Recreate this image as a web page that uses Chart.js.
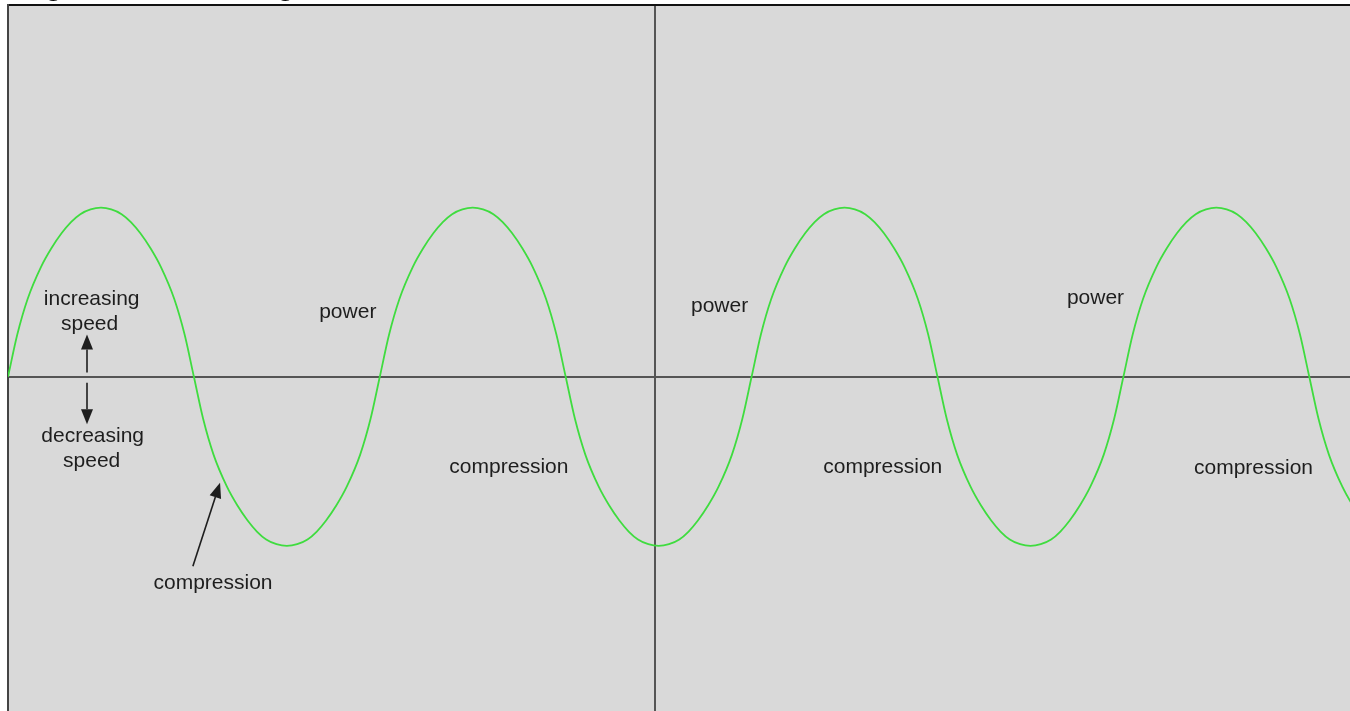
<!DOCTYPE html>
<html>
<head>
<meta charset="utf-8">
<title>Engine speed over crank angle</title>
<script src="https://cdn.jsdelivr.net/npm/chart.js@4.4.1/dist/chart.umd.min.js"></script>
<style>
  html, body { margin: 0; padding: 0; background: #fff; overflow: hidden; }
  #wrap { position: relative; width: 1350px; height: 711px; overflow: hidden; }
  #engine { position: absolute; left: 0; top: -30px; }
</style>
</head>
<body>
<div id="wrap"><canvas id="engine" width="1360" height="750"></canvas></div>
<script>
// crank angle in degrees
const crankAngle = [
    0, 9, 19, 32, 42, 52, 61, 70, 80, 90, 100, 110, 119, 128, 138, 148, 161, 171,
    180, 189, 199, 212, 222, 232, 241, 250, 260, 270, 280, 290, 299, 308, 318, 328, 341, 351,
    360, 369, 379, 392, 402, 412, 421, 430, 440, 450, 460, 470, 479, 488, 498, 508, 521, 531,
    540, 549, 559, 572, 582, 592, 601, 610, 620, 630, 640, 650, 659, 668, 678, 688, 701, 711,
    720, 729, 739, 752, 762, 772, 781, 790, 800, 810, 820, 830, 839, 848, 858, 868, 881, 891,
    900, 909, 919, 932, 942, 952, 961, 970, 980, 990, 1000, 1010, 1019, 1028, 1038, 1048, 1061, 1071,
    1080, 1089, 1099, 1112, 1122, 1132, 1141, 1150, 1160, 1170, 1180, 1190, 1199, 1208, 1218, 1228, 1241, 1251,
    1260, 1269, 1279, 1292, 1302, 1312,
]

// speed change (peak = 1)
const speedChange = [
    0, 0.25, 0.46, 0.65, 0.76, 0.85, 0.915, 0.962, 0.99, 1, 0.99, 0.962, 0.915, 0.85, 0.76, 0.65, 0.46, 0.25,
    0, -0.25, -0.46, -0.65, -0.76, -0.85, -0.915, -0.962, -0.99, -1, -0.99, -0.962, -0.915, -0.85, -0.76, -0.65, -0.46, -0.25,
    0, 0.25, 0.46, 0.65, 0.76, 0.85, 0.915, 0.962, 0.99, 1, 0.99, 0.962, 0.915, 0.85, 0.76, 0.65, 0.46, 0.25,
    0, -0.25, -0.46, -0.65, -0.76, -0.85, -0.915, -0.962, -0.99, -1, -0.99, -0.962, -0.915, -0.85, -0.76, -0.65, -0.46, -0.25,
    0, 0.25, 0.46, 0.65, 0.76, 0.85, 0.915, 0.962, 0.99, 1, 0.99, 0.962, 0.915, 0.85, 0.76, 0.65, 0.46, 0.25,
    0, -0.25, -0.46, -0.65, -0.76, -0.85, -0.915, -0.962, -0.99, -1, -0.99, -0.962, -0.915, -0.85, -0.76, -0.65, -0.46, -0.25,
    0, 0.25, 0.46, 0.65, 0.76, 0.85, 0.915, 0.962, 0.99, 1, 0.99, 0.962, 0.915, 0.85, 0.76, 0.65, 0.46, 0.25,
    0, -0.25, -0.46, -0.65, -0.76, -0.85,
]

const angleMin = 0
const angleMax = 1300
const speedMin = -2
const speedMax = 2.2
const crossAngle = 626 // where the vertical axis sits

const chartTitle = 'Engine Rotation Angle'

// text labels on the chart (data coordinates)
const notes = [
    { text: 'increasing', x: 81, y: 0.46 },
    { text: 'speed', x: 79, y: 0.31 },
    { text: 'decreasing', x: 82, y: -0.35 },
    { text: 'speed', x: 81, y: -0.5 },
    { text: 'compression', x: 198.5, y: -1.22 },
    { text: 'power', x: 329, y: 0.385 },
    { text: 'compression', x: 485, y: -0.535 },
    { text: 'power', x: 689, y: 0.42 },
    { text: 'compression', x: 847, y: -0.535 },
    { text: 'power', x: 1053, y: 0.465 },
    { text: 'compression', x: 1206, y: -0.54 },
]

const arrows = [
    { from: [76.5, 0.025], to: [76.5, 0.25] },
    { from: [76.5, -0.035], to: [76.5, -0.28] },
    { from: [179, -1.12], to: [205.3, -0.627] },
]

const plotGrey = '#d9d9d9'
const axisGrey = '#555555'
const curveGreen = '#3fdc3f'
const inkColor = '#1e1e1e'

const drawNotes = {
    id: 'drawNotes',
    beforeDraw(chart) {
        const { ctx, chartArea: a } = chart
        ctx.save()
        ctx.fillStyle = plotGrey
        ctx.fillRect(a.left, a.top, a.right - a.left, a.bottom - a.top)
        ctx.restore()
    },
    afterDatasetsDraw(chart) {
        const { ctx } = chart
        const xs = chart.scales.x
        const ys = chart.scales.y
        ctx.save()
        ctx.fillStyle = inkColor
        ctx.font = '21px "Liberation Sans", Arial, sans-serif'
        ctx.textAlign = 'center'
        ctx.textBaseline = 'middle'
        notes.forEach((n) => {
            ctx.fillText(n.text, xs.getPixelForValue(n.x), ys.getPixelForValue(n.y))
        })

        ctx.strokeStyle = inkColor
        ctx.lineWidth = 1.6
        arrows.forEach((ar) => {
            const x1 = xs.getPixelForValue(ar.from[0])
            const y1 = ys.getPixelForValue(ar.from[1])
            const x2 = xs.getPixelForValue(ar.to[0])
            const y2 = ys.getPixelForValue(ar.to[1])
            const ang = Math.atan2(y2 - y1, x2 - x1)
            const len = 15
            const half = 6
            const bx = x2 - len * Math.cos(ang)
            const by = y2 - len * Math.sin(ang)
            ctx.beginPath()
            ctx.moveTo(x1, y1)
            ctx.lineTo(bx, by)
            ctx.stroke()
            ctx.beginPath()
            ctx.moveTo(x2, y2)
            ctx.lineTo(bx + half * Math.sin(ang), by - half * Math.cos(ang))
            ctx.lineTo(bx - half * Math.sin(ang), by + half * Math.cos(ang))
            ctx.closePath()
            ctx.fill()
        })
        ctx.restore()
    },
}

new Chart(document.getElementById('engine'), {
    type: 'line',
    data: {
        datasets: [
            {
                label: 'speed',
                data: crankAngle.map((a, i) => ({ x: a, y: speedChange[i] })),
                borderColor: curveGreen,
                borderWidth: 1.8,
                pointRadius: 0,
                cubicInterpolationMode: 'monotone',
                fill: false,
            },
        ],
    },
    options: {
        responsive: false,
        animation: false,
        layout: { padding: { left: 8, right: 9.4, top: 0, bottom: 5 } },
        plugins: {
            legend: { display: false },
            tooltip: { enabled: false },
            title: {
                display: true,
                text: chartTitle,
                align: 'start',
                color: '#000',
                padding: 0,
                font: { family: '"Liberation Sans", Arial, sans-serif', size: 29, weight: 'bold' },
            },
        },
        scales: {
            x: {
                type: 'linear',
                position: 'top',
                min: angleMin,
                max: angleMax,
                afterBuildTicks: (axis) => {
                    axis.ticks = [{ value: crossAngle }]
                },
                ticks: { display: false },
                grid: { drawTicks: false, color: axisGrey, lineWidth: 2 },
                border: { display: true, color: '#111', width: 2 },
            },
            y: {
                type: 'linear',
                position: 'left',
                min: speedMin,
                max: speedMax,
                afterBuildTicks: (axis) => {
                    axis.ticks = [{ value: 0 }]
                },
                ticks: { display: false },
                grid: { drawTicks: false, color: axisGrey, lineWidth: 2 },
                border: { display: true, color: '#444', width: 2 },
            },
        },
    },
    plugins: [drawNotes],
})
</script>
</body>
</html>
